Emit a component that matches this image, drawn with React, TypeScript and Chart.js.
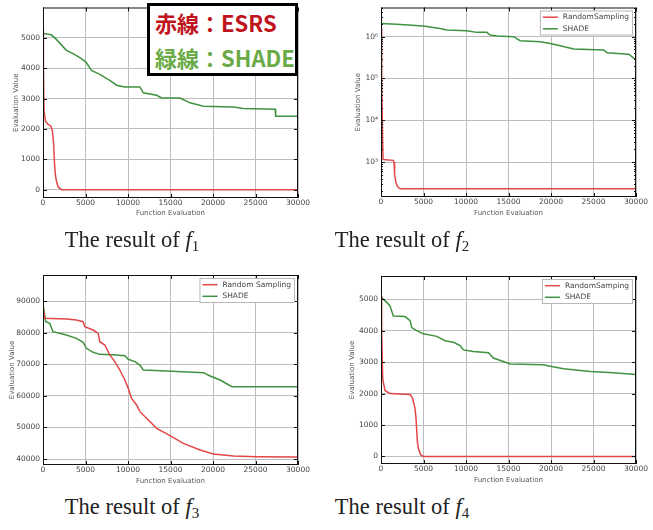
import React, { useEffect, useRef } from "react";
import { Chart, registerables } from "chart.js";

Chart.register(...registerables);

// ---------- data ----------
const xTickValues = [0, 5000, 10000, 15000, 20000, 25000, 30000];
const f1YTicks = [0, 1000, 2000, 3000, 4000, 5000];
const f2YTicks = [1e3, 1e4, 1e5, 1e6];
const f3YTicks = [40000, 50000, 60000, 70000, 80000, 90000];
const f4YTicks = [0, 1000, 2000, 3000, 4000, 5000];

const f1RedX = [0, 50, 120, 300, 600, 900, 1100, 1250, 1350, 1450, 1600, 1800, 2200, 30000];
const f1RedY = [5250, 4000, 2600, 2250, 2150, 2100, 1950, 1500, 900, 500, 250, 80, 0, 0];
const f1GreenX = [0, 980, 1570, 2750, 3540, 4330, 5030, 5700, 6680, 7860, 8650, 9630, 11400, 11800, 13370, 13960, 16120, 17300, 18870, 22410, 23590, 27320, 27370, 30000];
const f1GreenY = [5140, 5100, 4950, 4590, 4480, 4350, 4210, 3930, 3800, 3600, 3440, 3385, 3385, 3190, 3110, 3020, 3020, 2860, 2750, 2725, 2670, 2650, 2420, 2420];

const f2RedX = [0, 80, 180, 240, 1450, 1530, 1600, 1750, 1950, 2250, 30000];
const f2RedY = [1.6e6, 1e5, 5e3, 1150, 1100, 1000, 500, 330, 260, 230, 230];
const f2GreenX = [0, 1850, 4990, 6950, 7740, 10090, 11270, 12450, 12840, 13630, 15590, 16370, 18730, 19910, 21090, 22660, 26190, 26580, 29140, 30000];
const f2GreenY = [2.08e6, 2.0e6, 1.8e6, 1.58e6, 1.44e6, 1.39e6, 1.27e6, 1.27e6, 1.1e6, 1.04e6, 1.0e6, 8.0e5, 7.6e5, 6.9e5, 6.1e5, 5.07e5, 4.8e5, 4.15e5, 3.8e5, 2.8e5];

const f3RedX = [0, 200, 2750, 3930, 4720, 4910, 5900, 6490, 6680, 7270, 7860, 8450, 9040, 9630, 10030, 10420, 11010, 11400, 12190, 13370, 14940, 16510, 18480, 20050, 22410, 25160, 30000];
const f3RedY = [88000, 84600, 84400, 84100, 83550, 81970, 80900, 79850, 77200, 76150, 73000, 70870, 68220, 65050, 62400, 59240, 57120, 55010, 52900, 49730, 47400, 44970, 42850, 41590, 40950, 40740, 40630];
const f3GreenX = [0, 320, 790, 1180, 2750, 3930, 4720, 5110, 5900, 6680, 8650, 9630, 10030, 10810, 11400, 11800, 14550, 18870, 19660, 20840, 22220, 30000];
const f3GreenY = [89000, 83550, 83000, 80380, 79320, 78270, 77000, 75100, 73830, 73190, 72980, 72770, 71610, 70870, 69810, 68220, 67910, 67380, 66320, 65050, 62940, 62940];

const f4RedX = [0, 80, 200, 470, 1060, 3420, 3610, 3730, 4000, 4120, 4280, 4400, 4670, 4990, 30000];
const f4RedY = [5100, 3950, 2470, 2100, 2000, 1970, 1900, 1840, 1530, 1210, 470, 260, 50, 0, 0];
const f4GreenX = [0, 670, 1060, 1450, 2830, 3420, 3610, 4200, 4990, 6560, 7540, 8520, 9310, 9700, 10880, 12640, 13230, 14800, 15200, 19120, 19910, 21480, 24620, 27370, 30000];
const f4GreenY = [5070, 4900, 4790, 4470, 4450, 4320, 4100, 4000, 3900, 3820, 3680, 3630, 3530, 3390, 3340, 3300, 3130, 2980, 2940, 2920, 2870, 2790, 2700, 2660, 2610];

const RED = "#e24848";
const GREEN = "#3f923f";

const SUP: Record<string, string> = { "0": "⁰", "1": "¹", "2": "²", "3": "³", "4": "⁴", "5": "⁵", "6": "⁶", "7": "⁷", "8": "⁸", "9": "⁹" };

const pts = (xs: number[], ys: number[]) => xs.map((x, i) => ({ x, y: ys[i] }));

const framePlugin = {
  id: "frame",
  afterDatasetsDraw(chart: any) {
    const { ctx, chartArea: a, scales } = chart;
    ctx.save();
    ctx.strokeStyle = "#111";
    ctx.lineWidth = 1;
    ctx.strokeRect(a.left + 0.5, a.top + 0.5, a.right - a.left - 1, a.bottom - a.top - 1);
    ctx.beginPath();
    for (const t of scales.x.ticks) {
      const p = Math.round(scales.x.getPixelForValue(t.value)) + 0.5;
      ctx.moveTo(p, a.bottom); ctx.lineTo(p, a.bottom - 4);
      ctx.moveTo(p, a.top); ctx.lineTo(p, a.top + 4);
    }
    for (const t of scales.y.ticks) {
      const p = Math.round(scales.y.getPixelForValue(t.value)) + 0.5;
      ctx.moveTo(a.left, p); ctx.lineTo(a.left + 4, p);
      ctx.moveTo(a.right, p); ctx.lineTo(a.right - 4, p);
    }
    if (scales.y.type === "logarithmic") {
      const mn = scales.y.min, mx = scales.y.max;
      for (let e = Math.floor(Math.log10(mn)); e <= Math.ceil(Math.log10(mx)); e++) {
        for (let d = 2; d <= 9; d++) {
          const v = d * Math.pow(10, e);
          if (v < mn || v > mx) continue;
          const p = Math.round(scales.y.getPixelForValue(v)) + 0.5;
          ctx.moveTo(a.left, p); ctx.lineTo(a.left + 2, p);
          ctx.moveTo(a.right, p); ctx.lineTo(a.right - 2, p);
        }
      }
    }
    ctx.stroke();
    ctx.restore();
  },
  afterDraw(chart: any, _args: any, opts: any) {
    if (!opts || !opts.show) return;
    const { ctx, chartArea: a } = chart;
    ctx.save();
    ctx.font = '7.5px "DejaVu Sans"';
    const ds = chart.data.datasets;
    const tw = Math.max(...ds.map((d: any) => ctx.measureText(d.label).width));
    const w = 23 + tw + 4;
    const h = 25;
    const x0 = a.right - 3 - w;
    const y0 = a.top + 3;
    ctx.fillStyle = "#fff";
    ctx.fillRect(x0, y0, w, h);
    ctx.strokeStyle = "#b8b8b8";
    ctx.lineWidth = 1;
    ctx.strokeRect(x0 + 0.5, y0 + 0.5, w - 1, h - 1);
    ds.forEach((d: any, i: number) => {
      const y = y0 + 6.7 + i * 11.6;
      ctx.strokeStyle = d.borderColor;
      ctx.lineWidth = 1.5;
      ctx.beginPath();
      ctx.moveTo(x0 + 3, y);
      ctx.lineTo(x0 + 18, y);
      ctx.stroke();
      ctx.fillStyle = "#444";
      ctx.textBaseline = "middle";
      ctx.textAlign = "left";
      ctx.fillText(d.label, x0 + 23, y);
    });
    ctx.restore();
  },
};

type PanelCfg = {
  L: number; T: number; W: number; H: number;
  px0: number; px1: number; py0: number; py1: number;
  yType: "linear" | "logarithmic";
  yMin: number; yMax: number; yTicks: number[];
  yTitlePad: number;
  legend: boolean;
  labels: [string, string];
  red: { x: number[]; y: number[] };
  green: { x: number[]; y: number[] };
};

const tickFont = { family: "DejaVu Sans", size: 7.5 };
const titleFont = { family: "DejaVu Sans", size: 7 };

function Panel({ cfg }: { cfg: PanelCfg }) {
  const ref = useRef<HTMLCanvasElement>(null);
  useEffect(() => {
    const xh = cfg.T + cfg.H - cfg.py1;
    const yw = cfg.px0 - cfg.L;
    const chart = new Chart(ref.current as HTMLCanvasElement, {
      type: "line",
      data: {
        datasets: [
          { label: cfg.labels[0], data: pts(cfg.red.x, cfg.red.y), borderColor: RED, backgroundColor: RED, borderWidth: 1.5, pointRadius: 0, tension: 0, fill: false },
          { label: cfg.labels[1], data: pts(cfg.green.x, cfg.green.y), borderColor: GREEN, backgroundColor: GREEN, borderWidth: 1.5, pointRadius: 0, tension: 0, fill: false },
        ],
      },
      options: {
        responsive: false,
        animation: false,
        events: [],
        layout: { padding: { left: 0, top: cfg.py0 - cfg.T, right: cfg.L + cfg.W - cfg.px1, bottom: 0 } },
        plugins: {
          legend: { display: false },
          tooltip: { enabled: false },
          frame: { show: cfg.legend },
        } as any,
        scales: {
          x: {
            type: "linear",
            min: 0,
            max: 30000,
            afterBuildTicks: (s: any) => { s.ticks = xTickValues.map((v) => ({ value: v })); },
            afterFit: (s: any) => { s.height = xh; },
            grid: { color: "#bdbdbd", lineWidth: 1, drawTicks: false },
            border: { display: false },
            ticks: { padding: 1, font: tickFont, color: "#444", maxRotation: 0, autoSkip: false, callback: (v: any) => String(v) },
            title: { display: true, text: "Function Evaluation", font: titleFont, color: "#555", padding: { top: 4, bottom: 4 } },
          },
          y: {
            type: cfg.yType,
            min: cfg.yMin,
            max: cfg.yMax,
            afterBuildTicks: (s: any) => { s.ticks = cfg.yTicks.map((v) => ({ value: v })); },
            afterFit: (s: any) => { s.width = yw; },
            grid: { color: "#bdbdbd", lineWidth: 1, drawTicks: false },
            border: { display: false },
            ticks: {
              padding: 3, font: tickFont, color: "#444", autoSkip: false,
              callback: (v: any) => {
                if (cfg.yType === "logarithmic") {
                  const e = String(Math.round(Math.log10(Number(v))));
                  return "10" + e.split("").map((c) => SUP[c]).join("");
                }
                return String(v);
              },
            },
            title: { display: true, text: "Evaluation Value", font: titleFont, color: "#555", padding: { top: cfg.yTitlePad, bottom: 4 } },
          },
        } as any,
      },
      plugins: [framePlugin as any],
    });
    return () => chart.destroy();
  }, []);
  return (
    <canvas
      ref={ref}
      width={cfg.W}
      height={cfg.H}
      style={{ position: "absolute", left: cfg.L, top: cfg.T, width: cfg.W, height: cfg.H }}
    />
  );
}

const panels: PanelCfg[] = [
  {
    L: 0, T: 0, W: 320, H: 221, px0: 43, px1: 298, py0: 7, py1: 198,
    yType: "linear", yMin: -275, yMax: 6000, yTicks: f1YTicks, yTitlePad: 11.5, legend: false,
    labels: ["RandomSampling", "SHADE"],
    red: { x: f1RedX, y: f1RedY }, green: { x: f1GreenX, y: f1GreenY },
  },
  {
    L: 338, T: 0, W: 315, H: 221, px0: 381, px1: 636, py0: 7, py1: 197,
    yType: "logarithmic", yMin: 146, yMax: 5.0e6, yTicks: f2YTicks, yTitlePad: 15.8, legend: true,
    labels: ["RandomSampling", "SHADE"],
    red: { x: f2RedX, y: f2RedY }, green: { x: f2GreenX, y: f2GreenY },
  },
  {
    L: 0, T: 250, W: 320, H: 239, px0: 43, px1: 298, py0: 275, py1: 465,
    yType: "linear", yMin: 38100, yMax: 98350, yTicks: f3YTicks, yTitlePad: 7.8, legend: true,
    labels: ["Random Sampling", "SHADE"],
    red: { x: f3RedX, y: f3RedY }, green: { x: f3GreenX, y: f3GreenY },
  },
  {
    L: 338, T: 250, W: 315, H: 238, px0: 381, px1: 636, py0: 276, py1: 464,
    yType: "linear", yMin: -240, yMax: 5740, yTicks: f4YTicks, yTitlePad: 9.8, legend: true,
    labels: ["RandomSamping", "SHADE"],
    red: { x: f4RedX, y: f4RedY }, green: { x: f4GreenX, y: f4GreenY },
  },
];

const captions = [
  { n: "1", cx: 132, top: 228 },
  { n: "2", cx: 402, top: 228 },
  { n: "3", cx: 132, top: 495 },
  { n: "4", cx: 402, top: 495 },
];

export default function App() {
  return (
    <div style={{ position: "absolute", left: 0, top: 0, width: 653, height: 530, background: "#fff", overflow: "hidden" }}>
      {panels.map((p, i) => (
        <Panel key={i} cfg={p} />
      ))}
      {captions.map((c) => (
        <div
          key={c.n}
          style={{
            position: "absolute", left: c.cx - 110, top: c.top, width: 220, textAlign: "center",
            fontFamily: '"Liberation Serif", serif', fontSize: 22.5, lineHeight: "24px", color: "#222", whiteSpace: "nowrap",
          }}
        >
          The result of <i>f</i>
          <sub style={{ fontSize: 15, lineHeight: 0, verticalAlign: "-4px" }}>{c.n}</sub>
        </div>
      ))}
      <div
        style={{
          position: "absolute", left: 147, top: 3, width: 151, height: 73, boxSizing: "border-box",
          border: "3px solid #000", background: "#fff",
        }}
      />
      <div style={{ position: "absolute", left: 155, top: 9, lineHeight: "26px", fontSize: 22, fontWeight: 700, fontFamily: '"Noto Sans CJK JP", sans-serif', color: "#c0141c", whiteSpace: "nowrap" }}>
        赤線：ESRS
      </div>
      <div style={{ position: "absolute", left: 155, top: 44, lineHeight: "26px", fontSize: 22, fontWeight: 700, fontFamily: '"Noto Sans CJK JP", sans-serif', color: "#6aab48", whiteSpace: "nowrap" }}>
        緑線：SHADE
      </div>
    </div>
  );
}
